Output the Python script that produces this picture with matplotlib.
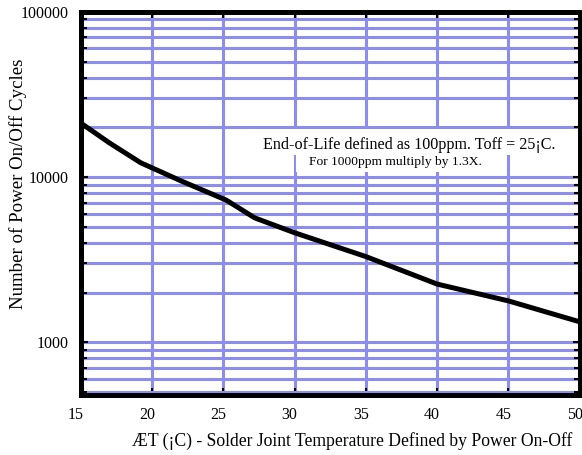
import matplotlib
matplotlib.use("Agg")
import matplotlib.pyplot as plt
import matplotlib.transforms as mtransforms
from matplotlib.ticker import LogLocator, NullFormatter, FixedLocator, FixedFormatter
from matplotlib.patches import Rectangle

plt.rcParams['font.family'] = ['Liberation Serif', 'DejaVu Serif']

# Data
temp_delta = [15, 17, 19.2, 22, 25.2, 27.2, 30, 35, 40, 45, 50]
cycles = [21200, 16100, 12200, 9500, 7250, 5660, 4600, 3300, 2250, 1780, 1330]

x_ticks = [15, 20, 25, 30, 35, 40, 45, 50]
y_major = [1000, 10000, 100000]
y_major_labels = ["1000", "10000", "100000"]

grid_color = '#8d8df0'

fig = plt.figure(figsize=(5.82, 4.55), dpi=100)
ax = fig.add_axes([0.139, 0.132, 0.857, 0.842])
ax.set_yscale('log')
ax.set_xlim(15, 50)
ax.set_ylim(480, 100000)

ax.set_xticks(x_ticks)
ax.yaxis.set_major_locator(FixedLocator(y_major))
ax.yaxis.set_major_formatter(FixedFormatter(y_major_labels))
ax.yaxis.set_minor_locator(LogLocator(base=10, subs=range(2, 10)))
ax.yaxis.set_minor_formatter(NullFormatter())
ax.grid(True, which='both', axis='y', color=grid_color, linewidth=2.2, zorder=1)
ax.grid(True, which='major', axis='x', color=grid_color, linewidth=2.2, zorder=1)
ax.set_axisbelow(True)

ax.plot(temp_delta, cycles, color='black', linewidth=3.6, zorder=5, solid_capstyle='butt')

for s in ax.spines.values():
    s.set_linewidth(3.6)
    s.set_color('black')
    s.set_zorder(6)

ax.tick_params(axis='both', which='both', direction='in', top=True, right=True,
               color='black', labelsize=11.5)
ax.tick_params(axis='x', which='major', length=5, width=1.5, pad=9)
ax.tick_params(axis='y', which='major', length=5, width=1.5, pad=9)
ax.tick_params(axis='y', which='minor', length=4, width=1.5)
ax.tick_params(axis='x', which='minor', bottom=False, top=False)

shift = mtransforms.ScaledTranslation(-0.05, 0, fig.dpi_scale_trans)
for lbl in ax.get_xticklabels():
    lbl.set_transform(lbl.get_transform() + shift)

# annotation boxes
ax.add_patch(Rectangle((0.339, 0.6266), 0.658, 0.068, transform=ax.transAxes,
                       facecolor='white', edgecolor='none', zorder=3))
ax.add_patch(Rectangle((0.431, 0.582), 0.42, 0.045, transform=ax.transAxes,
                       facecolor='white', edgecolor='none', zorder=3))
ax.text(0.658, 0.6527, "End-of-Life defined as 100ppm. Toff = 25¡C.", transform=ax.transAxes,
        ha='center', va='center', fontsize=11.6, zorder=4)
ax.text(0.630, 0.608, "For 1000ppm multiply by 1.3X.", transform=ax.transAxes,
        ha='center', va='center', fontsize=9.7, zorder=4)

ax.set_xlabel("ÆT (¡C) - Solder Joint Temperature Defined by Power On-Off",
              fontsize=12.7, x=0.543, labelpad=6)
ax.set_ylabel("Number of Power On/Off Cycles", fontsize=13.6)
ax.yaxis.set_label_coords(-0.108, 0.551)

fig.savefig("out.png", dpi=100)
